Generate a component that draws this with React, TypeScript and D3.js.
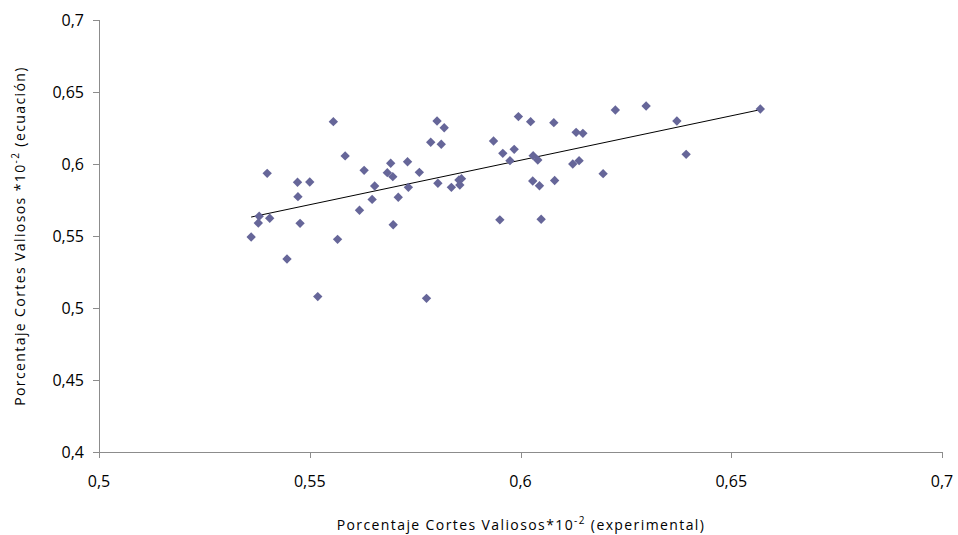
import React from "react";
import * as d3 from "d3";

const xExp = [
  0.5361, 0.5380, 0.5378, 0.5405, 0.5399, 0.5446, 0.5472, 0.5471, 0.5477, 0.5500,
  0.5519, 0.5556, 0.5566, 0.5584, 0.5618, 0.5629, 0.5648, 0.5654, 0.5684, 0.5692,
  0.5697, 0.5698, 0.5710, 0.5732, 0.5734, 0.5760, 0.5777, 0.5787, 0.5802, 0.5804,
  0.5812, 0.5819, 0.5836, 0.5854, 0.5856, 0.5860, 0.5936, 0.5958, 0.5951, 0.5975,
  0.5985, 0.5995, 0.6024, 0.6029, 0.6030, 0.6041, 0.6045, 0.6049, 0.6079, 0.6081,
  0.6124, 0.6132, 0.6139, 0.6148, 0.6196, 0.6225, 0.6298, 0.6371, 0.6393, 0.6569,
];
const yEcu = [
  0.5493, 0.5637, 0.5590, 0.5623, 0.5935, 0.5340, 0.5773, 0.5873, 0.5588, 0.5875,
  0.5079, 0.6294, 0.5477, 0.6056, 0.5679, 0.5956, 0.5754, 0.5847, 0.5940, 0.6005,
  0.5912, 0.5578, 0.5769, 0.6016, 0.5838, 0.5942, 0.5067, 0.6151, 0.6299, 0.5866,
  0.6137, 0.6252, 0.5838, 0.5889, 0.5854, 0.5898, 0.6160, 0.6074, 0.5612, 0.6023,
  0.6102, 0.6329, 0.6294, 0.5882, 0.6058, 0.6028, 0.5849, 0.5616, 0.6287, 0.5885,
  0.6000, 0.6220, 0.6023, 0.6213, 0.5933, 0.6375, 0.6403, 0.6299, 0.6067, 0.6382,
];
const xTicks = [0.5, 0.55, 0.6, 0.65, 0.7];
const yTicks = [0.4, 0.45, 0.5, 0.55, 0.6, 0.65, 0.7];

const W = 958;
const H = 535;
const left = 99;
const right = 942;
const top = 20;
const bottom = 452;

const fmt = (v: number) => String(+v.toFixed(2)).replace(".", ",");

export default function App() {
  const x = d3.scaleLinear().domain([0.5, 0.7]).range([left, right]);
  const y = d3.scaleLinear().domain([0.4, 0.7]).range([bottom, top]);

  const n = xExp.length;
  const mx = d3.mean(xExp) as number;
  const my = d3.mean(yEcu) as number;
  let sxy = 0;
  let sxx = 0;
  for (let i = 0; i < n; i++) {
    sxy += (xExp[i] - mx) * (yEcu[i] - my);
    sxx += (xExp[i] - mx) ** 2;
  }
  const slope = sxy / sxx;
  const intercept = my - slope * mx;
  const [x0, x1] = d3.extent(xExp) as [number, number];
  const line = d3.line<number>().x((d) => x(d)).y((d) => y(intercept + slope * d));

  const diamond = d3.symbol().type(d3.symbolDiamond2).size(56)();
  const font = "'Open Sans', 'Noto Sans', sans-serif";
  const axisColor = "#8c8c8c";

  return (
    <div style={{ position: "absolute", left: 0, top: 0 }}>
      <svg width={W} height={H} style={{ display: "block", background: "#fff" }} fontFamily={font}>
        {/* axes */}
        <line x1={left + 0.5} x2={left + 0.5} y1={top} y2={bottom + 6} stroke={axisColor} />
        <line x1={left - 6} x2={right} y1={bottom + 0.5} y2={bottom + 0.5} stroke={axisColor} />
        {yTicks.map((t) => (
          <g key={"y" + t}>
            <line x1={left - 6} x2={left} y1={Math.round(y(t)) + 0.5} y2={Math.round(y(t)) + 0.5} stroke={axisColor} />
            <text x={left - 15} y={y(t)} dy="0.35em" textAnchor="end" fontSize={16} fill="#000">
              {fmt(t)}
            </text>
          </g>
        ))}
        {xTicks.map((t) => (
          <g key={"x" + t}>
            <line x1={Math.round(x(t)) + 0.5} x2={Math.round(x(t)) + 0.5} y1={bottom} y2={bottom + 6} stroke={axisColor} />
            <text x={x(t)} y={487} textAnchor="middle" fontSize={16} fill="#000">
              {fmt(t)}
            </text>
          </g>
        ))}
        {/* trendline */}
        <path d={line([x0, x1]) || ""} fill="none" stroke="#000" strokeWidth={1} />
        {/* points */}
        {xExp.map((v, i) => (
          <path key={i} d={diamond || ""} transform={`translate(${x(v)},${y(yEcu[i])})`} fill="#666699" />
        ))}
        {/* axis titles */}
        <text x={521} y={530} textAnchor="middle" fontSize={14} letterSpacing={1.4} fill="#000">
          Porcentaje Cortes Valiosos*10
          <tspan dy={-6} fontSize={10}>-2</tspan>
          <tspan dy={6}> (experimental)</tspan>
        </text>
        <text transform={`translate(25,${(top + bottom) / 2}) rotate(-90)`} textAnchor="middle" fontSize={14} letterSpacing={1.4} fill="#000">
          Porcentaje Cortes Valiosos *10
          <tspan dy={-6} fontSize={10}>-2</tspan>
          <tspan dy={6}> (ecuación)</tspan>
        </text>
      </svg>
    </div>
  );
}
